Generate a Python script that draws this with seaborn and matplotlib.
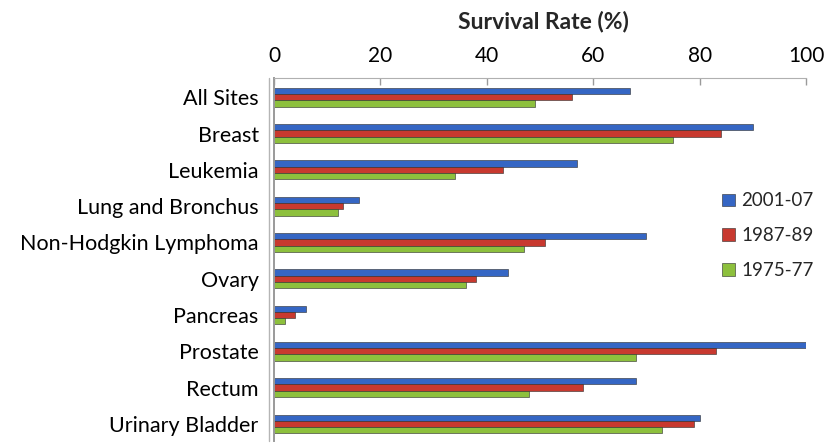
import matplotlib
matplotlib.use("Agg")
import matplotlib.pyplot as plt
import seaborn as sns
import pandas as pd

categories = ["All Sites", "Breast", "Leukemia", "Lung and Bronchus",
              "Non-Hodgkin Lymphoma", "Ovary", "Pancreas", "Prostate",
              "Rectum", "Urinary Bladder"]
periods = ["2001-07", "1987-89", "1975-77"]
rate_2001_07 = [67, 90, 57, 16, 70, 44, 6, 100, 68, 80]
rate_1987_89 = [56, 84, 43, 13, 51, 38, 4, 83, 58, 79]
rate_1975_77 = [49, 75, 34, 12, 47, 36, 2, 68, 48, 73]
x_ticks = [0, 20, 40, 60, 80, 100]
title = "Survival Rate (%)"

rows = []
for per, vals in zip(periods, [rate_2001_07, rate_1987_89, rate_1975_77]):
    for c, v in zip(categories, vals):
        rows.append({"Site": c, "Period": per, "Rate": v})
df = pd.DataFrame(rows)

sns.set_theme(style="white")
plt.rcParams["font.family"] = ["Lato", "DejaVu Sans"]

fig = plt.figure(figsize=(8.33, 4.44), dpi=100)
ax = fig.add_axes([274 / 833, 1 - 441 / 444, (806 - 274) / 833, (441 - 78) / 444])

palette = {"2001-07": "#3566C4", "1987-89": "#C8392F", "1975-77": "#8DC03D"}
sns.barplot(data=df, x="Rate", y="Site", hue="Period", order=categories,
            hue_order=periods, palette=palette, width=0.52, orient="h",
            saturation=1, edgecolor="#2a2a2a", linewidth=0.4, ax=ax)

ax.set_xlim(0, 100)
ax.set_ylim(9.47, -0.53)
ax.set_xticks(x_ticks)
ax.xaxis.tick_top()
ax.tick_params(axis="x", direction="in", length=5, color="#9a9a9a", width=1,
               labelsize=15, pad=9, labelcolor="black")
ax.tick_params(axis="y", length=0, labelsize=15.5, pad=11, labelcolor="black")
ax.set_xlabel("")
ax.set_ylabel("")

for s in ["right", "bottom"]:
    ax.spines[s].set_visible(False)
ax.spines["top"].set_color("#b0b0b0")
ax.spines["top"].set_linewidth(0.8)
ax.spines["left"].set_color("#9a9a9a")
ax.spines["left"].set_linewidth(1.4)
ax.axvline(-0.9, color="#b5b5b5", lw=1.0, clip_on=False)

fig.text(543 / 833, 1 - 21 / 444, title, ha="center", va="center",
         fontsize=16.5, fontweight="bold")

handles, labels = ax.get_legend_handles_labels()
ax.legend(handles, labels, loc="upper left", bbox_to_anchor=(713 / 833, 1 - 183 / 444),
          bbox_transform=fig.transFigure, frameon=False, fontsize=13.5,
          handlelength=0.65, handleheight=0.65, handletextpad=0.35, labelspacing=0.95,
          borderpad=0)

fig.savefig("out.png", dpi=100)
